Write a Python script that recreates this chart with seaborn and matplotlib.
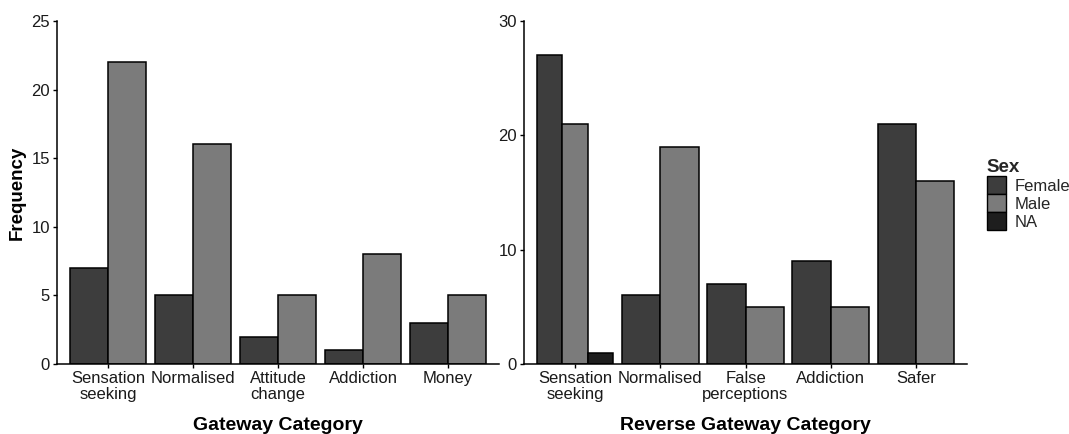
import matplotlib
matplotlib.use("Agg")
import matplotlib.pyplot as plt
from matplotlib.patches import Patch
import pandas as pd
import seaborn as sns

# data
gateway_cats = ["Sensation\nseeking", "Normalised", "Attitude\nchange", "Addiction", "Money"]
gateway_female = [7, 5, 2, 1, 3]
gateway_male = [22, 16, 5, 8, 5]

reverse_cats = ["Sensation\nseeking", "Normalised", "False\nperceptions", "Addiction", "Safer"]
reverse_female = [27, 6, 7, 9, 21]
reverse_male = [21, 19, 5, 5, 16]
reverse_na = [1, None, None, None, None]

sex_levels = ["Female", "Male", "NA"]
sex_colors = {"Female": "#3d3d3d", "Male": "#7b7b7b", "NA": "#1e1e1e"}

sns.set_theme(style="ticks")
plt.rcParams["font.family"] = ["Liberation Sans", "DejaVu Sans"]


def long_table(cats, series):
    rows = []
    for sex, values in series.items():
        for cat, v in zip(cats, values):
            if v is not None:
                rows.append({"category": cat, "sex": sex, "count": v})
    return pd.DataFrame(rows)


def dodge_bars(ax, df, cats):
    # ggplot-style dodge: each category is split only among the sexes it has
    groups = {}
    for cat in cats:
        present = tuple(s for s in sex_levels if s in set(df.loc[df["category"] == cat, "sex"]))
        groups.setdefault(present, []).append(cat)
    for present, group_cats in groups.items():
        sub = df[df["category"].isin(group_cats)]
        sns.barplot(data=sub, x="category", y="count", hue="sex", order=cats,
                    hue_order=list(present), palette=sex_colors, width=0.9, gap=0,
                    edgecolor="black", linewidth=1.1, saturation=1, legend=False,
                    errorbar=None, ax=ax)


def style_axis(ax, ymax, yticks, xlabel, ylabel):
    ax.set_xlim(-0.6, 4.6)
    ax.set_ylim(0, ymax)
    ax.set_yticks(yticks)
    ax.set_xlabel(xlabel, fontsize=14, fontweight="bold", labelpad=11, color="black")
    ax.set_ylabel(ylabel, fontsize=13.5, fontweight="bold", labelpad=4, color="black")
    ax.tick_params(axis="both", labelsize=12, length=3, width=1.0, color="black",
                   labelcolor="#1a1a1a", pad=2)
    for side in ["left", "bottom"]:
        ax.spines[side].set_linewidth(1.1)
        ax.spines[side].set_color("black")
    sns.despine(ax=ax)
    for lab in ax.get_xticklabels():
        lab.set_linespacing(1.1)


fig = plt.figure(figsize=(10.69, 4.34), dpi=100)
ax1 = fig.add_axes([57 / 1069, 70 / 434, 442 / 1069, 343 / 434])
ax2 = fig.add_axes([524 / 1069, 70 / 434, 443 / 1069, 343 / 434])

gateway_df = long_table(gateway_cats, {"Female": gateway_female, "Male": gateway_male})
reverse_df = long_table(reverse_cats, {"Female": reverse_female, "Male": reverse_male,
                                       "NA": reverse_na})

dodge_bars(ax1, gateway_df, gateway_cats)
dodge_bars(ax2, reverse_df, reverse_cats)

style_axis(ax1, 25, [0, 5, 10, 15, 20, 25], "Gateway Category", "Frequency")
style_axis(ax2, 30, [0, 10, 20, 30], "Reverse Gateway Category", "")

handles = [Patch(facecolor=sex_colors[s], edgecolor="black", linewidth=1.0, label=s)
           for s in sex_levels]
leg = fig.legend(handles=handles, title="Sex", loc="upper left",
                 bbox_to_anchor=(980 / 1069, 1 - 152 / 434), frameon=False,
                 fontsize=12, title_fontsize=13.5, handlelength=1.15, handleheight=1.2,
                 handletextpad=0.55, labelspacing=0.05, alignment="left",
                 borderaxespad=0)
leg.get_title().set_fontweight("bold")

fig.savefig("out.png", dpi=100)
